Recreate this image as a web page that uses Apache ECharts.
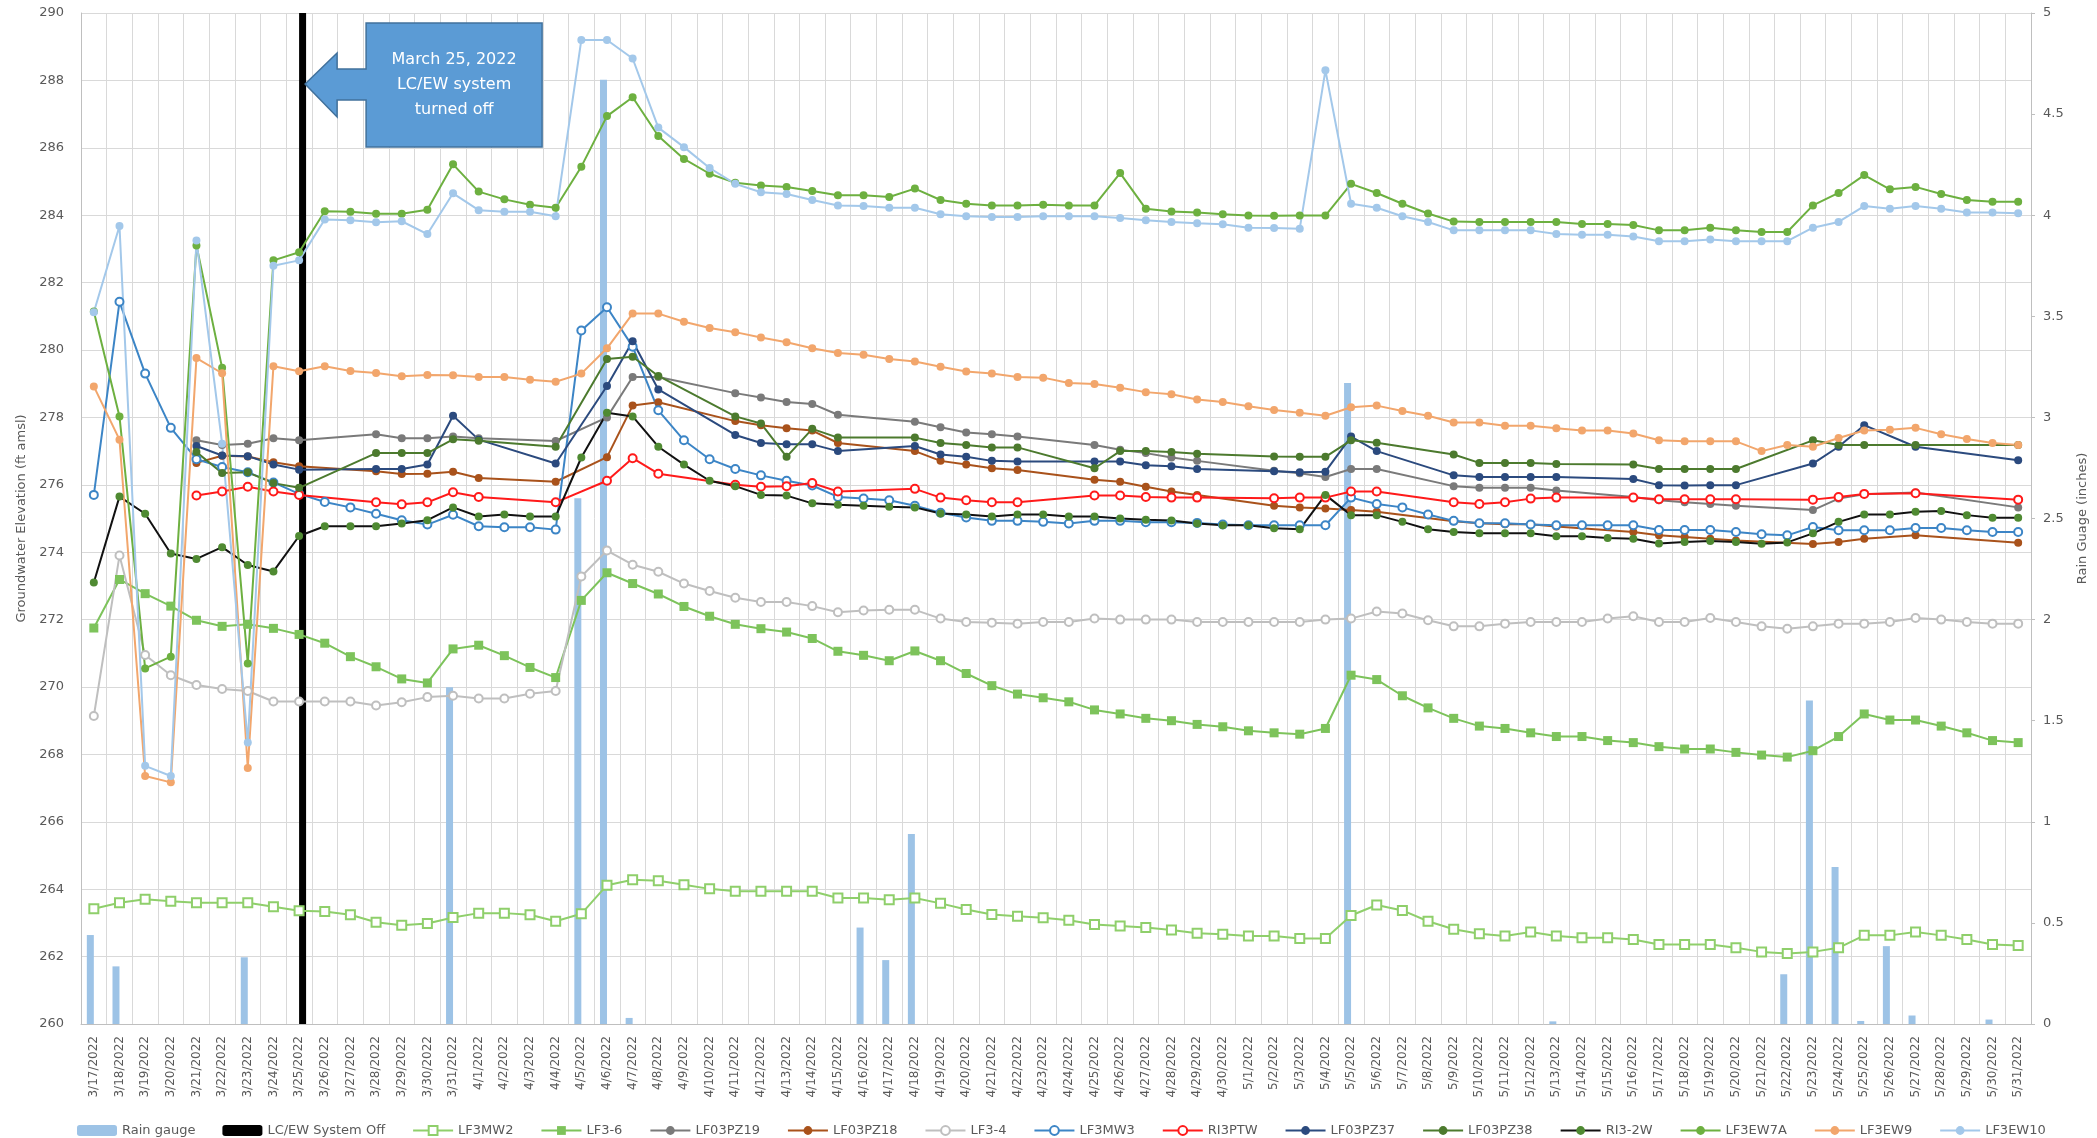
<!DOCTYPE html>
<html>
<head>
<meta charset="utf-8">
<script src="https://cdn.jsdelivr.net/npm/echarts@6/dist/echarts.min.js"></script>
<style>
html,body{margin:0;padding:0;background:#fff;}
#chart{width:2097px;height:1138px;}
</style>
</head>
<body>
<div id="chart"></div>
<script>
const dates = ['3/17/2022','3/18/2022','3/19/2022','3/20/2022','3/21/2022','3/22/2022','3/23/2022','3/24/2022','3/25/2022','3/26/2022','3/27/2022','3/28/2022','3/29/2022','3/30/2022','3/31/2022',
'4/1/2022','4/2/2022','4/3/2022','4/4/2022','4/5/2022','4/6/2022','4/7/2022','4/8/2022','4/9/2022','4/10/2022','4/11/2022','4/12/2022','4/13/2022','4/14/2022','4/15/2022','4/16/2022','4/17/2022','4/18/2022','4/19/2022','4/20/2022','4/21/2022','4/22/2022','4/23/2022','4/24/2022','4/25/2022','4/26/2022','4/27/2022','4/28/2022','4/29/2022','4/30/2022',
'5/1/2022','5/2/2022','5/3/2022','5/4/2022','5/5/2022','5/6/2022','5/7/2022','5/8/2022','5/9/2022','5/10/2022','5/11/2022','5/12/2022','5/13/2022','5/14/2022','5/15/2022','5/16/2022','5/17/2022','5/18/2022','5/19/2022','5/20/2022','5/21/2022','5/22/2022','5/23/2022','5/24/2022','5/25/2022','5/26/2022','5/27/2022','5/28/2022','5/29/2022','5/30/2022','5/31/2022'];

const leftTicks = {min:260, max:290, step:2};
const rightTicks = {min:0, max:5, step:0.5};

const rainGauge = [0.44,0.285,null,null,null,null,0.33,null,null,null,null,null,null,null,1.665,
null,null,null,null,2.6,4.67,0.03,null,null,null,null,null,null,null,null,0.477,0.316,0.94,null,null,null,null,null,null,null,null,null,null,null,null,
null,null,null,null,3.17,null,null,null,null,null,null,null,0.013,null,null,null,null,null,null,null,null,0.246,1.6,0.776,0.015,0.385,0.042,null,null,0.022,null];

const systemOff = [null,null,null,null,null,null,null,null,5,null,null,null,null,null,null,
null,null,null,null,null,null,null,null,null,null,null,null,null,null,null,null,null,null,null,null,null,null,null,null,null,null,null,null,null,null,
null,null,null,null,null,null,null,null,null,null,null,null,null,null,null,null,null,null,null,null,null,null,null,null,null,null,null,null,null,null,null];

const LF3MW2 = [263.42,263.6,263.7,263.64,263.6,263.6,263.6,263.48,263.36,263.34,263.24,263.02,262.93,262.98,263.16,
263.29,263.29,263.24,263.05,263.27,264.12,264.28,264.25,264.13,264.01,263.94,263.94,263.94,263.94,263.74,263.74,263.69,263.74,263.58,263.4,263.25,263.2,263.15,263.08,262.95,262.91,262.86,262.79,262.69,262.66,
262.61,262.61,262.54,262.54,263.22,263.53,263.37,263.05,262.81,262.68,262.61,262.73,262.61,262.56,262.56,262.51,262.36,262.36,262.36,262.26,262.14,262.09,262.14,262.26,262.63,262.63,262.73,262.63,262.51,262.36,262.33];

const LF3_6 = [271.75,273.19,272.77,272.4,271.98,271.8,271.86,271.74,271.56,271.3,270.9,270.6,270.24,270.12,271.13,
271.24,270.93,270.58,270.28,272.57,273.39,273.07,272.76,272.39,272.1,271.86,271.73,271.63,271.44,271.06,270.94,270.78,271.07,270.78,270.4,270.04,269.79,269.68,269.56,269.32,269.2,269.07,269.0,268.89,268.82,
268.7,268.64,268.6,268.77,270.35,270.22,269.74,269.38,269.07,268.84,268.77,268.64,268.53,268.53,268.41,268.35,268.23,268.16,268.16,268.06,267.98,267.92,268.11,268.53,269.2,269.02,269.02,268.84,268.64,268.41,268.35];

const LF03PZ19 = [null,null,null,null,277.32,277.18,277.22,277.38,277.32,null,null,277.5,277.38,277.38,277.43,
277.38,null,null,277.3,null,278.0,279.2,279.2,null,null,278.72,278.59,278.46,278.4,278.08,null,null,277.87,277.71,277.55,277.5,277.43,null,null,277.18,277.04,276.94,276.81,276.71,null,
null,276.42,276.34,276.23,276.47,276.47,null,null,275.96,275.91,275.91,275.91,275.83,null,null,275.64,275.54,275.48,275.43,275.38,null,null,275.25,275.59,275.72,null,275.77,null,null,null,275.33];

const LF03PZ18 = [null,null,null,null,276.65,276.86,276.84,276.67,276.55,null,null,276.4,276.32,276.33,276.39,
276.2,null,null,276.09,null,276.82,278.35,278.45,null,null,277.89,277.77,277.68,277.61,277.24,null,null,277.0,276.71,276.6,276.49,276.44,null,null,276.15,276.09,275.94,275.8,275.7,null,
null,275.38,275.33,275.3,275.25,275.2,null,null,274.92,274.86,274.83,274.83,274.76,null,null,274.6,274.5,274.45,274.4,274.35,null,null,274.24,274.3,274.4,null,274.5,null,null,null,274.28];

const LF3_4 = [269.14,273.9,270.95,270.35,270.06,269.94,269.88,269.57,269.57,269.57,269.57,269.45,269.55,269.7,269.74,
269.66,269.66,269.8,269.88,273.28,274.05,273.63,273.42,273.07,272.85,272.65,272.52,272.52,272.4,272.22,272.27,272.29,272.29,272.03,271.93,271.91,271.88,271.93,271.93,272.03,272.0,272.0,272.0,271.93,271.93,
271.93,271.93,271.93,272.0,272.03,272.24,272.18,271.98,271.8,271.8,271.88,271.93,271.93,271.93,272.03,272.1,271.93,271.93,272.05,271.93,271.8,271.73,271.8,271.88,271.88,271.93,272.05,272.0,271.93,271.88,271.88];

const LF3MW3 = [275.7,281.43,279.3,277.69,276.76,276.53,276.37,276.07,275.73,275.49,275.33,275.14,274.95,274.82,275.11,
274.77,274.74,274.74,274.67,280.58,281.27,280.1,278.21,277.32,276.76,276.47,276.28,276.12,275.98,275.64,275.59,275.54,275.38,275.17,275.03,274.93,274.93,274.9,274.85,274.93,274.93,274.89,274.89,274.87,274.82,
274.8,274.8,274.8,274.8,275.62,275.43,275.33,275.12,274.93,274.86,274.86,274.82,274.8,274.8,274.8,274.8,274.66,274.66,274.66,274.6,274.53,274.5,274.75,274.65,274.65,274.65,274.72,274.72,274.65,274.6,274.6];

const RI3PTW = [null,null,null,null,275.68,275.8,275.94,275.8,275.7,null,null,275.48,275.42,275.48,275.78,
275.64,null,null,275.48,null,276.12,276.79,276.33,null,null,276.0,275.94,275.96,276.05,275.8,null,null,275.88,275.62,275.54,275.48,275.48,null,null,275.68,275.68,275.64,275.62,275.62,null,
null,275.6,275.62,275.62,275.8,275.8,null,null,275.48,275.43,275.48,275.59,275.62,null,null,275.62,275.57,275.57,275.57,275.57,null,null,275.56,275.64,275.73,null,275.75,null,null,null,275.56];

const LF03PZ37 = [null,null,null,null,277.15,276.87,276.85,276.6,276.45,null,null,276.47,276.47,276.6,278.05,
277.34,null,null,276.63,null,278.93,280.26,278.83,null,null,277.48,277.24,277.2,277.2,277.0,null,null,277.15,276.9,276.83,276.71,276.69,null,null,276.69,276.69,276.58,276.55,276.47,null,
null,276.4,276.37,276.39,277.43,277.0,null,null,276.28,276.23,276.23,276.23,276.23,null,null,276.17,275.99,275.98,275.99,275.99,null,null,276.63,277.13,277.77,null,277.13,null,null,null,276.73];

const LF03PZ38 = [null,null,null,null,276.97,276.35,276.37,276.05,275.91,null,null,276.94,276.94,276.94,277.35,
277.31,null,null,277.13,null,279.73,279.8,279.23,null,null,278.03,277.82,276.83,277.66,277.4,null,null,277.4,277.24,277.18,277.11,277.11,null,null,276.49,277.0,277.0,276.97,276.92,null,
null,276.84,276.83,276.83,277.32,277.25,null,null,276.9,276.65,276.65,276.65,276.62,null,null,276.6,276.47,276.47,276.47,276.47,null,null,277.32,277.18,277.18,null,277.18,null,null,null,277.18];

const RI3_2W = [273.1,275.65,275.14,273.96,273.8,274.15,273.62,273.43,274.48,274.77,274.77,274.77,274.85,274.95,275.33,
275.06,275.12,275.06,275.06,276.81,278.14,278.03,277.13,276.6,276.12,275.96,275.7,275.68,275.45,275.41,275.38,275.35,275.33,275.15,275.12,275.06,275.12,275.12,275.06,275.06,275.0,274.96,274.94,274.85,274.8,
274.8,274.71,274.68,275.7,275.1,275.1,274.9,274.68,274.6,274.56,274.56,274.56,274.47,274.47,274.42,274.4,274.26,274.3,274.33,274.3,274.25,274.29,274.56,274.9,275.12,275.12,275.2,275.22,275.1,275.02,275.02];

const LF3EW7A = [281.14,278.03,270.55,270.9,283.1,279.47,270.7,282.66,282.9,284.12,284.1,284.04,284.04,284.16,285.51,
284.7,284.47,284.31,284.22,285.44,286.94,287.5,286.35,285.67,285.23,284.96,284.88,284.84,284.72,284.59,284.59,284.54,284.79,284.45,284.34,284.29,284.29,284.31,284.29,284.29,285.25,284.19,284.11,284.08,284.03,
283.99,283.98,283.99,283.99,284.93,284.66,284.34,284.05,283.81,283.8,283.8,283.8,283.8,283.74,283.74,283.71,283.55,283.55,283.63,283.55,283.5,283.5,284.29,284.66,285.19,284.77,284.84,284.63,284.45,284.4,284.4];

const LF3EW9 = [278.92,277.34,267.36,267.17,279.76,279.31,267.6,279.52,279.37,279.52,279.38,279.32,279.22,279.26,279.25,
279.2,279.2,279.12,279.06,279.3,280.05,281.08,281.08,280.84,280.65,280.53,280.37,280.23,280.05,279.91,279.86,279.73,279.66,279.5,279.36,279.3,279.2,279.18,279.02,278.99,278.88,278.75,278.69,278.53,278.46,
278.33,278.22,278.14,278.05,278.3,278.35,278.19,278.05,277.85,277.85,277.75,277.75,277.68,277.61,277.61,277.52,277.32,277.29,277.29,277.29,277.0,277.18,277.13,277.39,277.61,277.63,277.69,277.5,277.36,277.24,277.18];

const LF3EW10 = [281.12,283.68,267.66,267.36,283.25,277.22,268.35,282.5,282.66,283.87,283.85,283.79,283.82,283.44,284.65,
284.15,284.1,284.1,283.97,289.2,289.2,288.65,286.6,286.02,285.4,284.93,284.68,284.63,284.45,284.29,284.27,284.22,284.22,284.03,283.97,283.95,283.95,283.97,283.97,283.97,283.92,283.85,283.8,283.76,283.73,
283.63,283.62,283.6,288.3,284.34,284.22,283.97,283.8,283.55,283.55,283.55,283.55,283.44,283.42,283.42,283.37,283.23,283.23,283.28,283.23,283.23,283.23,283.63,283.8,284.27,284.19,284.27,284.19,284.08,284.08,284.06];

const annotationLines = ['March 25, 2022', 'LC/EW system', 'turned off'];

const FONT = 'DejaVu Sans';
const TXT = '#595959';

function lineSeries(name, data, color, symbol, opts) {
  opts = opts || {};
  return {
    name: name, type: 'line', yAxisIndex: 0, data: data,
    connectNulls: true,
    symbol: symbol, symbolSize: opts.size || 8,
    lineStyle: {color: opts.lineColor || color, width: 2},
    itemStyle: {color: color, borderWidth: 2},
    emphasis: {disabled: true},
    z: 3
  };
}

const chart = echarts.init(document.getElementById('chart'), null, {renderer: 'canvas'});

const series = [
  {name: 'Rain gauge', type: 'bar', yAxisIndex: 1, data: rainGauge, barWidth: 7, barGap: '0%',
   itemStyle: {color: '#9DC3E6'}, z: 2},
  {name: 'LC/EW System Off', type: 'bar', yAxisIndex: 1, data: systemOff, barWidth: 7, barGap: '0%',
   itemStyle: {color: '#000000'}, z: 2},
  lineSeries('LF3MW2', LF3MW2, '#8FCF6B', 'emptyRect', {size: 9}),
  lineSeries('LF3-6', LF3_6, '#7DC35B', 'rect', {size: 9}),
  lineSeries('LF03PZ19', LF03PZ19, '#7A7A7A', 'circle'),
  lineSeries('LF03PZ18', LF03PZ18, '#A9521B', 'circle'),
  lineSeries('LF3-4', LF3_4, '#BFBFBF', 'emptyCircle'),
  lineSeries('LF3MW3', LF3MW3, '#3C85C6', 'emptyCircle'),
  lineSeries('RI3PTW', RI3PTW, '#FF1A1A', 'emptyCircle'),
  lineSeries('LF03PZ37', LF03PZ37, '#2B4A7E', 'circle'),
  lineSeries('LF03PZ38', LF03PZ38, '#4C7A2E', 'circle'),
  lineSeries('RI3-2W', RI3_2W, '#4F8A32', 'circle', {lineColor: '#111111'}),
  lineSeries('LF3EW7A', LF3EW7A, '#6DB040', 'circle'),
  lineSeries('LF3EW9', LF3EW9, '#F2A66C', 'circle'),
  lineSeries('LF3EW10', LF3EW10, '#A3C8EA', 'circle')
];

const option = {
  animation: false,
  backgroundColor: '#ffffff',
  textStyle: {fontFamily: FONT},
  grid: {left: 81, right: 62, top: 13, bottom: 114, containLabel: false},
  legend: {
    left: 72, top: 1119, itemWidth: 40, itemHeight: 11, itemGap: 27,
    textStyle: {fontFamily: FONT, fontSize: 13, color: TXT},
    data: series.map(function (s) { return s.name; })
  },
  xAxis: {
    type: 'category', data: dates, boundaryGap: true,
    axisLine: {show: true, lineStyle: {color: '#BFBFBF', width: 1}},
    axisTick: {show: false},
    axisLabel: {rotate: 90, interval: 0, fontSize: 12, color: TXT, margin: 12, fontFamily: FONT},
    splitLine: {show: true, interval: 0, lineStyle: {color: '#D9D9D9', width: 1}}
  },
  yAxis: [
    {
      type: 'value', min: leftTicks.min, max: leftTicks.max, interval: leftTicks.step,
      name: 'Groundwater Elevation (ft amsl)', nameLocation: 'middle', nameGap: 52, nameRotate: 90,
      nameTextStyle: {fontSize: 13, color: TXT, fontFamily: FONT},
      axisLine: {show: true, lineStyle: {color: '#BFBFBF'}},
      axisTick: {show: false},
      axisLabel: {fontSize: 13, color: TXT, margin: 17, fontFamily: FONT},
      splitLine: {show: true, lineStyle: {color: '#D9D9D9', width: 1}}
    },
    {
      type: 'value', position: 'right', min: rightTicks.min, max: rightTicks.max, interval: rightTicks.step,
      name: 'Rain Guage (inches)', nameLocation: 'middle', nameGap: 45, nameRotate: 90,
      nameTextStyle: {fontSize: 13, color: TXT, fontFamily: FONT},
      axisLine: {show: true, lineStyle: {color: '#BFBFBF'}},
      axisTick: {show: true, length: 4, lineStyle: {color: '#BFBFBF'}},
      axisLabel: {fontSize: 13, color: TXT, margin: 12, fontFamily: FONT},
      splitLine: {show: false}
    }
  ],
  series: series
};

chart.setOption(option);

// Callout arrow pointing at the system-off date
const offX = chart.convertToPixel({xAxisIndex: 0}, '3/25/2022');
const tipX = offX + 6, tipY = 84;
const headX = tipX + 32, boxL = tipX + 61, boxR = tipX + 237;
const boxT = 23, boxB = 147;
chart.setOption({
  graphic: [
    {type: 'polygon', z: 100,
     shape: {points: [[tipX, tipY], [headX, 53], [headX, 69], [boxL, 69], [boxL, boxT], [boxR, boxT],
                      [boxR, boxB], [boxL, boxB], [boxL, 100], [headX, 100], [headX, 117]]},
     style: {fill: '#5B9BD5', stroke: '#41719C', lineWidth: 1.5}},
    {type: 'text', z: 101, x: (boxL + boxR) / 2, y: (boxT + boxB) / 2,
     style: {text: annotationLines.join('\n'), fill: '#ffffff', fontSize: 16, fontFamily: FONT,
             align: 'center', verticalAlign: 'middle', lineHeight: 25}}
  ]
});
</script>
</body>
</html>
